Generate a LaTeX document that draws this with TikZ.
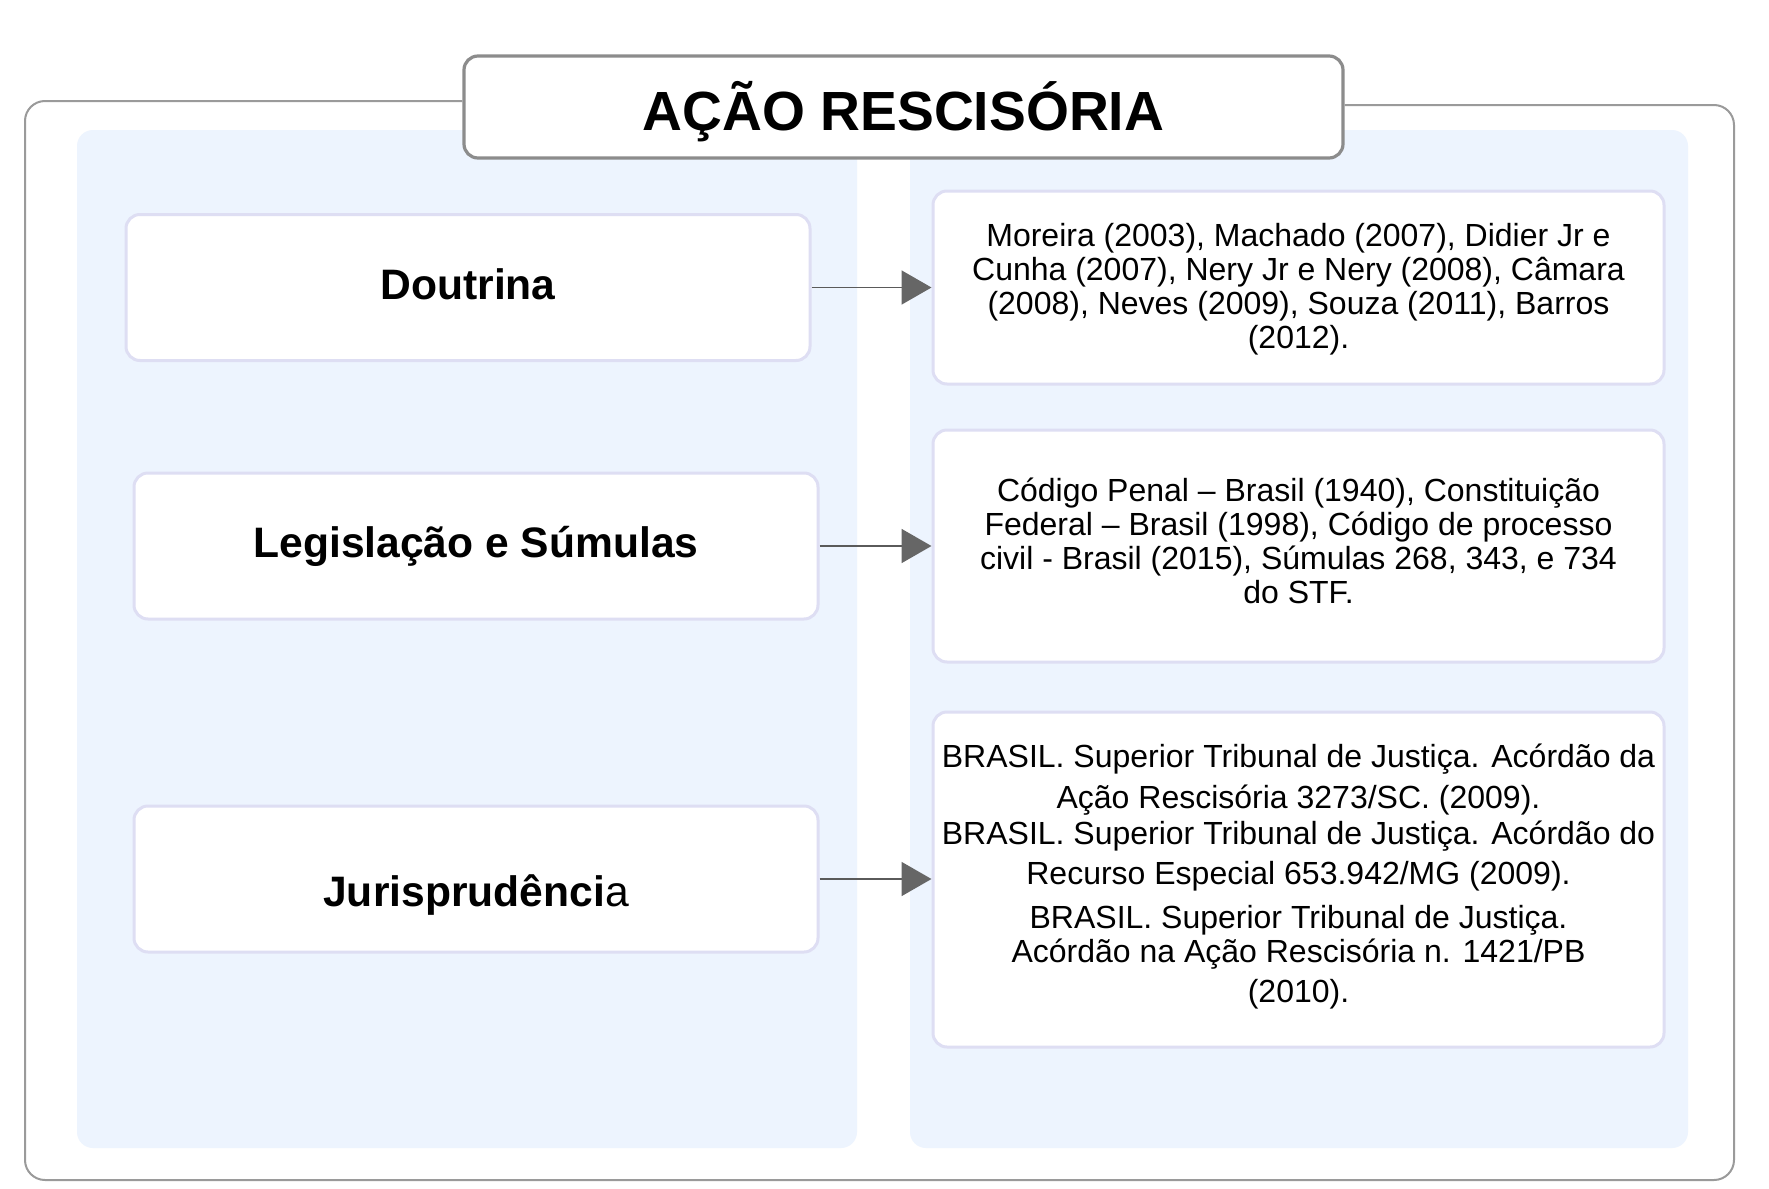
\documentclass[tikz,border=0pt]{standalone}
\usepackage{fontspec}
\setmainfont{Liberation Sans}
\usetikzlibrary{arrows.meta}
\definecolor{panel}{HTML}{EDF4FE}
\definecolor{lav}{HTML}{DEDEF3}
\definecolor{framec}{HTML}{9A9A9A}
\definecolor{tbord}{HTML}{8C8C8C}
\definecolor{arrline}{HTML}{5A5A5A}
\definecolor{arrhead}{HTML}{666666}
\begin{document}
\begin{tikzpicture}[x=0.5pt,y=-0.5pt,
  panelbox/.style={fill=panel, draw=none, rounded corners=8pt},
  frameline/.style={draw=framec, line width=1pt, rounded corners=10pt},
  titlebox/.style={draw=tbord, line width=1.6pt, fill=white, rounded corners=7pt,
    minimum width=439.5pt, minimum height=51pt, inner sep=0pt},
  titletext/.style={inner sep=0pt, font=\bfseries\fontsize{27.6}{30}\selectfont},
  leftbox/.style={draw=lav, line width=1.5pt, fill=white, rounded corners=7pt,
    minimum width=342pt, minimum height=73pt, inner sep=0pt},
  labeltext/.style={inner sep=0pt, font=\bfseries\fontsize{21.3}{24}\selectfont},
  rightbox/.style={draw=lav, line width=1.5pt, fill=white, rounded corners=7pt,
    minimum width=365.5pt, inner sep=0pt},
  reftext/.style={align=center, inner sep=0pt, font=\fontsize{16}{17}\selectfont},
  conn/.style={draw=arrline, line width=0.9pt,
    -{Triangle[length=15pt,width=17pt,color=arrhead,fill=arrhead]}}
]
\useasboundingbox (0,0) rectangle (1769,1189);
\fill[white] (0,0) rectangle (1769,1189);

% panels
\fill[panelbox] (77,130) rectangle (857,1148);
\fill[panelbox] (910,130) rectangle (1688,1148);

% title
\node[titlebox] (title) at (903.5,107) {};
\node[titletext] (titlet) at ([yshift=-2.2pt]title.center) {AÇÃO RESCISÓRIA};

% outer frame
\draw[frameline] ([yshift=3pt]title.west) -- (25,101) -- (25,1180) -- (1734,1180) -- (1734,105) -- ([yshift=1pt]title.east);

% left boxes
\node[leftbox] (dout) at (468,287.5) {};
\node[labeltext] (doutt) at ([yshift=1.6pt]dout.center) {Doutrina};
\node[leftbox] (legis) at (476,546) {};
\node[labeltext] (legist) at (legis.center) {Legislação e Súmulas};
\node[leftbox] (juris) at (476,879) {};
\node[labeltext] (jurist) at ([yshift=-7.8pt]juris.center) {Jurisprudênci\mdseries a};

% right boxes
\node[rightbox, minimum height=96.5pt] (r1) at (1298.5,287.5) {};
\node[rightbox, minimum height=116pt] (r2) at (1298.5,546) {};
\node[rightbox, minimum height=167.5pt] (r3) at (1298.5,879.5) {};

% texts
\node[reftext] (t1) at (1298.5,289) {Moreira (2003), Machado (2007), Didier Jr e\\
Cunha (2007), Nery Jr e Nery (2008), Câmara\\
(2008), Neves (2009), Souza (2011), Barros\\
(2012).};
\node[reftext] (t2) at (1298.5,541) {Código Penal – Brasil (1940), Constituição\\
Federal – Brasil (1998), Código de processo\\
civil - Brasil (2015), Súmulas 268, 343, e 734\\
do STF.};
\node[reftext] (t3) at (1298.5,876.5) {BRASIL. Superior Tribunal de Justiça. Acórdão da\\[3.3pt]
Ação Rescisória 3273/SC. (2009).\\[1pt]
BRASIL. Superior Tribunal de Justiça. Acórdão do\\[3.3pt]
Recurso Especial 653.942/MG (2009).\\[5pt]
BRASIL. Superior Tribunal de Justiça.\\
Acórdão na Ação Rescisória n. 1421/PB\\[2.7pt]
(2010).};

% connectors
\draw[conn] (dout.east) -- (dout.east -| r1.west);
\draw[conn] (legis.east) -- (legis.east -| r2.west);
\draw[conn] (juris.east) -- (juris.east -| r3.west);
\end{tikzpicture}
\end{document}
